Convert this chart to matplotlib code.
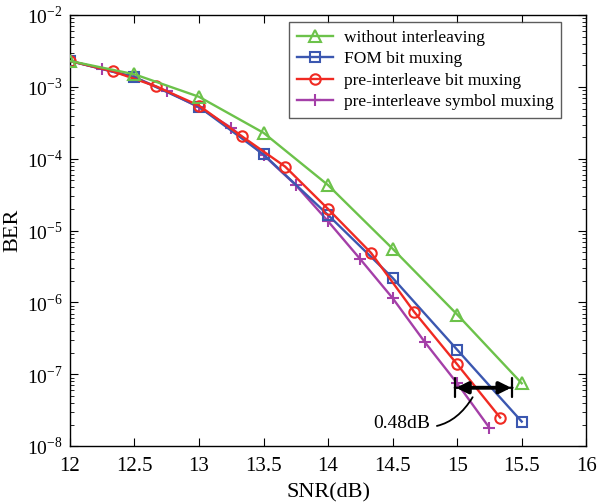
import matplotlib
matplotlib.use("Agg")
import matplotlib.pyplot as plt
import numpy as np

plt.rcParams['font.family'] = ['Liberation Serif', 'DejaVu Serif']
plt.rcParams['mathtext.fontset'] = 'custom'
plt.rcParams['mathtext.rm'] = 'Liberation Serif'

# without interleaving
snr_wo = [12, 12.5, 13, 13.5, 14, 14.5, 15, 15.5]
ber_wo = [2.3e-3, 1.5e-3, 7.3e-4, 2.3e-4, 4.3e-5, 5.6e-6, 6.8e-7, 7.5e-8]
# FOM bit muxing
snr_fom = [12, 12.5, 13, 13.5, 14, 14.5, 15, 15.5]
ber_fom = [2.3e-3, 1.37e-3, 5.3e-4, 1.15e-4, 1.65e-5, 2.2e-6, 2.2e-7, 2.2e-8]
# pre-interleave bit muxing
snr_pb = [12, 12.333, 12.667, 13, 13.333, 13.667, 14, 14.333, 14.667, 15, 15.333]
ber_pb = [2.3e-3, 1.65e-3, 1.02e-3, 5.5e-4, 2.05e-4, 7.8e-5, 2.0e-5, 4.9e-6, 7.4e-7, 1.38e-7, 2.5e-8]
# pre-interleave symbol muxing
snr_ps = [12, 12.25, 12.5, 12.75, 13, 13.25, 13.5, 13.75, 14, 14.25, 14.5, 14.75, 15, 15.25]
ber_ps = [2.3e-3, 1.78e-3, 1.37e-3, 8.7e-4, 5.2e-4, 2.7e-4, 1.13e-4, 4.3e-5, 1.35e-5, 4.0e-6,
          1.15e-6, 2.8e-7, 7.5e-8, 1.8e-8]

labels = ['without interleaving', 'FOM bit muxing', 'pre-interleave bit muxing',
          'pre-interleave symbol muxing']
colors = ['#6cc24a', '#3b57b0', '#f02a22', '#a43fa8']

fig = plt.figure(figsize=(5.97, 5.03), dpi=100)
ax = fig.add_axes([0.117, 0.113, 0.865, 0.857])

ax.plot(snr_wo, ber_wo, color=colors[0], lw=1.7, marker='^', ms=8, mfc='none', mew=1.5,
        label=labels[0], zorder=5)
ax.plot(snr_fom, ber_fom, color=colors[1], lw=1.7, marker='s', ms=6.5, mfc='none', mew=1.5,
        label=labels[1], zorder=3)
ax.plot(snr_pb, ber_pb, color=colors[2], lw=1.7, marker='o', ms=7.5, mfc='none', mew=1.5,
        label=labels[2], zorder=4)
ax.plot(snr_ps, ber_ps, color=colors[3], lw=1.7, marker='+', ms=8, mew=1.5,
        label=labels[3], zorder=2)

ax.set_yscale('log')
ax.set_xlim(12, 16)
ax.set_ylim(1e-8, 1e-2)
ax.set_xticks([12, 12.5, 13, 13.5, 14, 14.5, 15, 15.5, 16])
ax.set_xticklabels(['12', '12.5', '13', '13.5', '14', '14.5', '15', '15.5', '16'])
ax.set_yticks([1e-8, 1e-7, 1e-6, 1e-5, 1e-4, 1e-3, 1e-2])
ax.set_yticklabels([r'$10^{-%d}$' % k for k in [8, 7, 6, 5, 4, 3, 2]])
ax.tick_params(axis='both', which='both', direction='in', top=True, right=True)
ax.tick_params(axis='x', which='major', pad=8, labelsize=15)
ax.tick_params(axis='y', which='major', pad=5, labelsize=14)
ax.tick_params(axis='both', which='major', length=6)
ax.tick_params(axis='y', which='minor', length=3)
for s in ax.spines.values():
    s.set_linewidth(1.0)

ax.set_xlabel('SNR(dB)', fontsize=16, labelpad=5)
ax.set_ylabel('BER', fontsize=16, labelpad=3)

# annotation arrow (0.48 dB gap)
ya = 6.5e-8
ax.annotate('', xy=(14.96, ya), xytext=(15.45, ya),
            arrowprops=dict(arrowstyle='|-|', lw=1.6, color='black', mutation_scale=7),
            zorder=6)
ax.annotate('', xy=(14.97, ya), xytext=(15.44, ya),
            arrowprops=dict(arrowstyle='<|-|>', lw=2.8, color='black', mutation_scale=17),
            zorder=6)
ax.annotate('0.48dB', xy=(15.12, 4.8e-8), xytext=(14.79, 2.1e-8), fontsize=14,
            ha='right', va='center',
            arrowprops=dict(arrowstyle='-', lw=1.3, color='black',
                            connectionstyle='arc3,rad=0.4', shrinkA=3, shrinkB=0))

leg = ax.legend(loc='upper right', bbox_to_anchor=(0.952, 0.984), borderaxespad=0,
                fontsize=12.5, frameon=True, fancybox=False, edgecolor='#333333',
                handlelength=2.1, borderpad=0.45, labelspacing=0.3, handletextpad=0.6)
leg.get_frame().set_linewidth(1.0)

fig.savefig('out.png', dpi=100)
